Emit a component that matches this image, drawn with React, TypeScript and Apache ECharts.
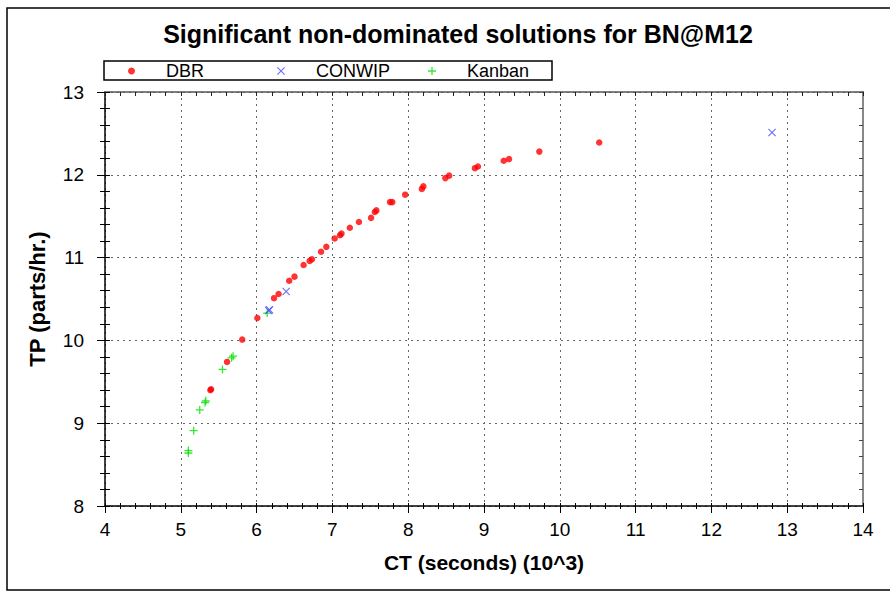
import React, { useEffect, useRef } from "react";
import * as echarts from "echarts";

const TITLE = "Significant non-dominated solutions for BN@M12";
const X_NAME = "CT (seconds) (10^3)";
const Y_NAME = "TP (parts/hr.)";
const X_MIN = 4;
const X_MAX = 14;
const Y_MIN = 8;
const Y_MAX = 13;

const dbrCT = [5.39, 5.4, 5.61, 5.81, 6.01, 6.23, 6.29, 6.43, 6.5, 6.62, 6.7, 6.73, 6.85, 6.92, 7.03, 7.1, 7.12, 7.23, 7.35, 7.51, 7.56, 7.58, 7.76, 7.79, 7.96, 8.18, 8.2, 8.49, 8.54, 8.88, 8.92, 9.26, 9.33, 9.73, 10.52];
const dbrTP = [9.4, 9.41, 9.74, 10.01, 10.27, 10.51, 10.56, 10.72, 10.77, 10.91, 10.96, 10.98, 11.07, 11.13, 11.23, 11.27, 11.29, 11.36, 11.43, 11.48, 11.55, 11.57, 11.67, 11.67, 11.76, 11.83, 11.86, 11.96, 11.99, 12.08, 12.1, 12.17, 12.19, 12.28, 12.39];

const conwipCT = [6.16, 6.17, 6.39, 12.8];
const conwipTP = [10.36, 10.37, 10.59, 12.51];

const kanbanCT = [5.1, 5.1, 5.17, 5.25, 5.32, 5.33, 5.55, 5.67, 5.69, 6.14];
const kanbanTP = [8.64, 8.67, 8.91, 9.16, 9.25, 9.27, 9.65, 9.79, 9.81, 10.33];

const FONT = "'Liberation Sans', Arial, sans-serif";
const CROSS = "path://M1,0L5,4L9,0L10,1L6,5L10,9L9,10L5,6L1,10L0,9L4,5L0,1Z";
const PLUS = "path://M4.2,0H5.8V4.2H10V5.8H5.8V10H4.2V5.8H0V4.2H4.2Z";

const zip = (xs: number[], ys: number[]) => xs.map((x, i) => [x, ys[i]]);

export default function App() {
  const ref = useRef<HTMLDivElement>(null);
  useEffect(() => {
    const chart = echarts.init(ref.current!, null, { renderer: "svg" });
    const baseX = { type: "value", min: X_MIN, max: X_MAX, interval: 1, gridIndex: 0 };
    const baseY = { type: "value", min: Y_MIN, max: Y_MAX, interval: 1, gridIndex: 0 };
    const legendText = { fontSize: 18, color: "#000", fontFamily: FONT, padding: [0, 0, 0, 26] };
    const option: any = {
      animation: false,
      backgroundColor: "#fff",
      textStyle: { fontFamily: FONT },
      title: {
        text: TITLE,
        left: 453,
        top: 16,
        textAlign: "center",
        textStyle: { fontSize: 25, fontWeight: "bold", color: "#000", fontFamily: FONT },
      },
      graphic: [
        {
          type: "rect",
          silent: true,
          z: 0,
          shape: { x: 7, y: 8, width: 900, height: 582 },
          style: { fill: "none", stroke: "#000", lineWidth: 1.5 },
        },
        {
          type: "rect",
          silent: true,
          z: 0,
          shape: { x: 104, y: 61, width: 448, height: 19 },
          style: { fill: "#fff", stroke: "#000", lineWidth: 1.5 },
        },
      ],
      legend: [
        { data: ["DBR"], left: 128, top: 62, padding: 0, itemWidth: 7, itemHeight: 7, textStyle: legendText },
        { data: ["CONWIP"], left: 277, top: 62, padding: 0, itemWidth: 8, itemHeight: 8, textStyle: legendText },
        { data: ["Kanban"], left: 428, top: 62, padding: 0, itemWidth: 8, itemHeight: 8, textStyle: legendText },
      ],
      grid: { left: 105, top: 92, right: 27, bottom: 86, containLabel: false },
      xAxis: [
        {
          ...baseX,
          position: "bottom",
          name: X_NAME,
          nameLocation: "middle",
          nameGap: 46,
          nameTextStyle: { fontSize: 21, fontWeight: "bold", color: "#000", fontFamily: FONT },
          axisLine: { show: true, onZero: false, lineStyle: { color: "#000", width: 1.5 } },
          axisTick: { show: true, length: 7, lineStyle: { color: "#000" } },
          minorTick: { show: true, splitNumber: 5, length: 3, lineStyle: { color: "#000" } },
          axisLabel: { fontSize: 19, color: "#000", margin: 14, fontFamily: FONT },
          splitLine: { show: true, lineStyle: { color: "#666", width: 1, type: [2, 4] } },
        },
        {
          ...baseX,
          position: "bottom",
          axisLine: { show: false, onZero: false },
          axisTick: { show: true, inside: true, length: 3, lineStyle: { color: "#000" } },
          minorTick: { show: true, splitNumber: 5, length: 3, lineStyle: { color: "#000" } },
          axisLabel: { show: false },
          splitLine: { show: false },
        },
        {
          ...baseX,
          position: "top",
          axisLine: { show: true, onZero: false, lineStyle: { color: "#555", width: 1.5 } },
          axisTick: { show: true, inside: true, length: 4, lineStyle: { color: "#222" } },
          minorTick: { show: true, splitNumber: 5, length: 4, lineStyle: { color: "#222" } },
          axisLabel: { show: false },
          splitLine: { show: false },
        },
      ],
      yAxis: [
        {
          ...baseY,
          position: "left",
          name: Y_NAME,
          nameLocation: "middle",
          nameGap: 57,
          nameTextStyle: { fontSize: 22, fontWeight: "bold", color: "#000", fontFamily: FONT },
          axisLine: { show: true, onZero: false, lineStyle: { color: "#000", width: 1.5 } },
          axisTick: { show: true, length: 8, lineStyle: { color: "#000" } },
          minorTick: { show: true, splitNumber: 5, length: 5, lineStyle: { color: "#000" } },
          axisLabel: { fontSize: 19, color: "#000", margin: 21, fontFamily: FONT },
          splitLine: { show: true, lineStyle: { color: "#666", width: 1, type: [2, 4] } },
        },
        {
          ...baseY,
          position: "left",
          axisLine: { show: false, onZero: false },
          axisTick: { show: true, inside: true, length: 5, lineStyle: { color: "#000" } },
          minorTick: { show: true, splitNumber: 5, length: 5, lineStyle: { color: "#000" } },
          axisLabel: { show: false },
          splitLine: { show: false },
        },
        {
          ...baseY,
          position: "right",
          axisLine: { show: true, onZero: false, lineStyle: { color: "#888", width: 2 } },
          axisTick: { show: true, inside: true, length: 4, lineStyle: { color: "#444" } },
          minorTick: { show: true, splitNumber: 5, length: 4, lineStyle: { color: "#444" } },
          axisLabel: { show: false },
          splitLine: { show: false },
        },
      ],
      series: [
        {
          name: "DBR",
          type: "scatter",
          xAxisIndex: 0,
          yAxisIndex: 0,
          symbol: "circle",
          symbolSize: 6.5,
          itemStyle: { color: "#ff0000" },
          data: zip(dbrCT, dbrTP),
          z: 3,
        },
        {
          name: "CONWIP",
          type: "scatter",
          xAxisIndex: 0,
          yAxisIndex: 0,
          symbol: CROSS,
          symbolSize: 8,
          itemStyle: { color: "#4a4aff" },
          data: zip(conwipCT, conwipTP),
          z: 4,
        },
        {
          name: "Kanban",
          type: "scatter",
          xAxisIndex: 0,
          yAxisIndex: 0,
          symbol: PLUS,
          symbolSize: 8,
          itemStyle: { color: "#00e000" },
          data: zip(kanbanCT, kanbanTP),
          z: 3,
        },
      ],
    };
    chart.setOption(option);
    return () => chart.dispose();
  }, []);
  return (
    <div
      ref={ref}
      style={{ position: "fixed", left: 0, top: 0, width: 890, height: 592, background: "#fff" }}
    />
  );
}
